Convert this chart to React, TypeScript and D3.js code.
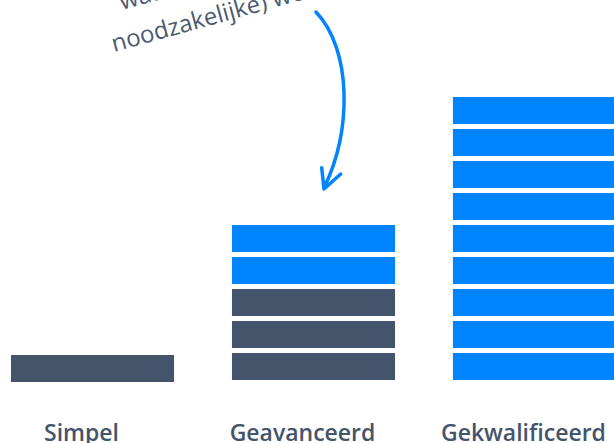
import React from "react";
import * as d3 from "d3";

const categories = ["Simpel", "Geavanceerd", "Gekwalificeerd"];
const darkBlocks = [1, 3, 0];
const blueBlocks = [0, 2, 9];
const annotationLines = ["waarbij meer (en", "noodzakelijke) werk nodig is"];

const W = 614;
const H = 443;
const DARK = "#44546A";
const BLUE = "#0084FF";

export default function App() {
  const x = d3.scaleBand<string>().domain(categories).range([11, 616]).paddingInner(0.262).paddingOuter(0);
  const y = d3.scaleLinear().domain([0, 9]).range([380, 92]);
  const gap = 5;

  const blocks: { cat: string; i: number; color: string; key: string }[] = [];
  categories.forEach((c, ci) => {
    const total = darkBlocks[ci] + blueBlocks[ci];
    for (let i = 0; i < total; i++) {
      blocks.push({ cat: c, i, color: i < darkBlocks[ci] ? DARK : BLUE, key: c + i });
    }
  });

  const shift = (c: string) => (c === "Simpel" ? 2 : 0);

  const arrowPath = d3.path();
  arrowPath.moveTo(316, 12);
  arrowPath.bezierCurveTo(352, 50, 352, 130, 324, 188);

  const headPath = d3.line()([
    [321.7, 167.7],
    [324, 189],
    [340.7, 174],
  ]);

  return (
    <svg
      width={W}
      height={H}
      style={{ position: "absolute", left: 0, top: 0, display: "block", background: "#fff" }}
    >
      {blocks.map((b) => (
        <rect
          key={b.key}
          x={x(b.cat)}
          y={y(b.i + 1) + gap + shift(b.cat)}
          width={x.bandwidth()}
          height={y(b.i) - y(b.i + 1) - gap}
          fill={b.color}
        />
      ))}
      {categories.map((c) => (
        <text
          key={c}
          x={(x(c) as number) + x.bandwidth() / 2 - 11}
          y={440.7}
          textAnchor="middle"
          fontFamily="'Open Sans', sans-serif"
          fontWeight={600}
          fontSize={23}
          fill={DARK}
        >
          {c}
        </text>
      ))}
      <g transform="translate(114,52) rotate(-15.5)">
        <text x={19} y={-38.4} fontFamily="'Open Sans', sans-serif" fontSize={24} fill="#4A5A72">
          {annotationLines[0]}
        </text>
        <text x={0} y={0} fontFamily="'Open Sans', sans-serif" fontSize={24} fill="#4A5A72">
          {annotationLines[1]}
        </text>
      </g>
      <path d={arrowPath.toString()} fill="none" stroke={BLUE} strokeWidth={3.5} strokeLinecap="round" />
      <path d={headPath || ""} fill="none" stroke={BLUE} strokeWidth={3.5} strokeLinecap="round" strokeLinejoin="round" />
    </svg>
  );
}
